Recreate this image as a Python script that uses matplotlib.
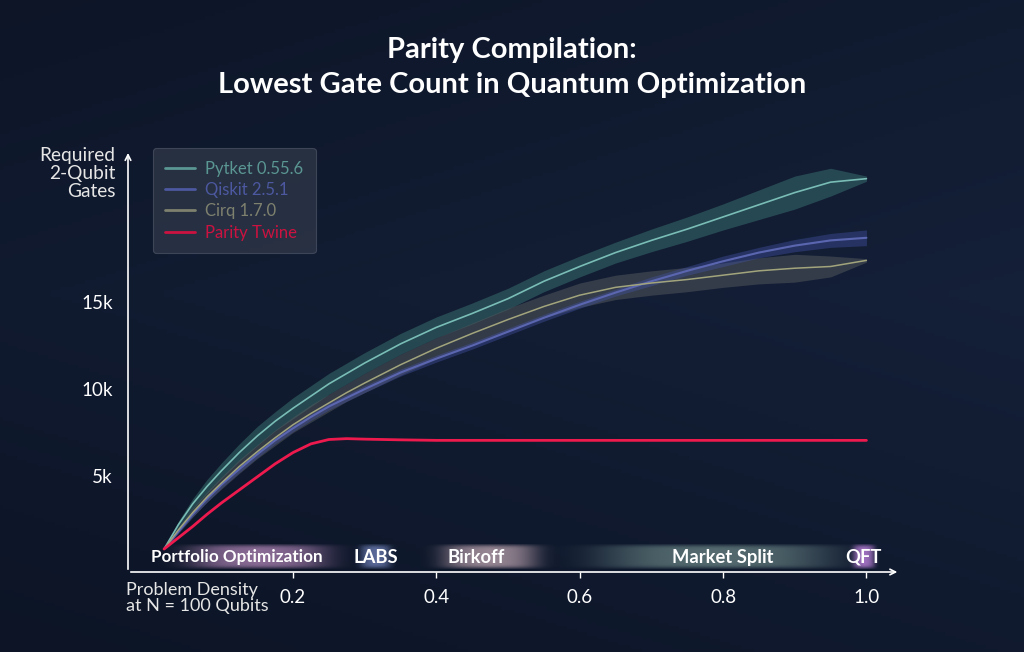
import numpy as np
import matplotlib
matplotlib.use("Agg")
import matplotlib.pyplot as plt
from matplotlib.colors import to_rgb

plt.rcParams['font.family'] = ['Lato', 'DejaVu Sans']

# ---------------- data ----------------
density = [0.02, 0.04, 0.06, 0.08, 0.10, 0.125, 0.15, 0.175, 0.20, 0.225, 0.25, 0.275, 0.30,
           0.35, 0.40, 0.45, 0.50, 0.55, 0.60, 0.65, 0.70, 0.75, 0.80, 0.85, 0.90, 0.95, 1.00]

pytket = [0.8, 2.2, 3.4, 4.4, 5.3, 6.35, 7.3, 8.15, 8.9, 9.6, 10.3, 10.9, 11.5,
          12.6, 13.55, 14.35, 15.2, 16.2, 17.05, 17.85, 18.55, 19.2, 19.9, 20.6, 21.3, 21.9, 22.1]
pytket_spread = [0.0, 0.2, 0.3, 0.4, 0.45, 0.5, 0.55, 0.55, 0.6, 0.6, 0.6, 0.6, 0.6,
                 0.6, 0.6, 0.6, 0.6, 0.6, 0.6, 0.6, 0.65, 0.7, 0.75, 0.85, 0.95, 0.8, 0.15]

qiskit = [0.8, 1.8, 2.8, 3.7, 4.5, 5.4, 6.25, 7.05, 7.75, 8.4, 9.0, 9.5, 10.0,
          10.95, 11.75, 12.5, 13.3, 14.1, 14.85, 15.55, 16.2, 16.8, 17.35, 17.85, 18.25, 18.55, 18.7]
qiskit_spread = [0.0, 0.1, 0.15, 0.2, 0.2, 0.2, 0.2, 0.2, 0.2, 0.2, 0.2, 0.2, 0.2,
                 0.2, 0.2, 0.2, 0.2, 0.2, 0.2, 0.2, 0.25, 0.25, 0.3, 0.3, 0.35, 0.4, 0.45]

cirq = [0.8, 1.9, 2.9, 3.8, 4.6, 5.55, 6.4, 7.2, 7.95, 8.6, 9.2, 9.8, 10.35,
        11.4, 12.35, 13.2, 14.0, 14.75, 15.4, 15.85, 16.1, 16.3, 16.55, 16.8, 16.95, 17.05, 17.4]
cirq_spread = [0.0, 0.15, 0.25, 0.3, 0.35, 0.4, 0.4, 0.45, 0.45, 0.5, 0.5, 0.5, 0.55,
               0.6, 0.6, 0.6, 0.65, 0.65, 0.7, 0.7, 0.7, 0.7, 0.7, 0.75, 0.8, 0.6, 0.1]

parity = [0.8, 1.45, 2.1, 2.8, 3.45, 4.2, 4.95, 5.7, 6.35, 6.85, 7.1, 7.15, 7.12,
          7.08, 7.05, 7.05, 7.05, 7.05, 7.05, 7.05, 7.05, 7.05, 7.05, 7.05, 7.05, 7.05, 7.05]

series_names = ["Pytket 0.55.6", "Qiskit 2.5.1", "Cirq 1.7.0", "Parity Twine"]

x_ticks = [0.2, 0.4, 0.6, 0.8, 1.0]
x_tick_labels = ["0.2", "0.4", "0.6", "0.8", "1.0"]
y_ticks = [5, 10, 15]
y_tick_labels = ["5k", "10k", "15k"]

problem_names = ["Portfolio Optimization", "LABS", "Birkoff", "Market Split", "QFT"]
problem_pos = [0.122, 0.315, 0.455, 0.799, 0.996]

# ---------------- style ----------------
BG = "#0f1829"
teal_line, teal_band, teal_txt = "#79bdb6", "#3a7472", "#5a9692"
blue_line, blue_band, blue_txt = "#5b66b0", "#4553a6", "#4c58a0"
olive_line, olive_band, olive_txt = "#a2a57c", "#565b5e", "#7e816e"
red_line = "#ee1a4e"

glow_specs = [  # (center offset, half width, color, peak alpha, font size)
    (0.03, 0.16, "#a07aa8", 0.85, 12.3),
    (0.0, 0.035, "#6e7fb5", 0.8, 13.2),
    (0.02, 0.11, "#b09aa6", 0.85, 13.2),
    (-0.01, 0.27, "#7a9894", 0.65, 13.2),
    (0.0, 0.025, "#b07ad0", 0.9, 13.2),
]

fig = plt.figure(figsize=(10.24, 6.52), dpi=100)
fig.patch.set_facecolor(BG)

# background gradient
bg_ax = fig.add_axes([0, 0, 1, 1], zorder=-10)
bg_ax.set_axis_off()
gy, gx = np.mgrid[0:1:200j, 0:1:300j]
c0 = np.array(to_rgb("#0a1120"))
c1 = np.array(to_rgb("#15213a"))
w = np.clip(0.35 * gx + 0.45 * (1 - np.abs(gy - 0.45) * 1.6) + 0.15, 0, 1)[..., None]
img = c0 * (1 - w) + c1 * w
bg_ax.imshow(img, extent=[0, 1, 0, 1], aspect='auto', origin='upper')

ax = fig.add_axes([0.125, 0.1227, 0.754, 0.647])
ax.set_facecolor("none")
x = np.array(density)

def band(y, s, color, alpha):
    y = np.array(y); s = np.array(s)
    ax.fill_between(x, y - s, y + s, color=color, alpha=alpha, lw=0, zorder=2)

band(pytket, pytket_spread, teal_band, 0.5)
band(cirq, cirq_spread, olive_band, 0.5)
band(qiskit, qiskit_spread, blue_band, 0.4)

l1, = ax.plot(x, pytket, color=teal_line, lw=1.2, zorder=4, solid_capstyle='round')
l2, = ax.plot(x, qiskit, color=blue_line, lw=1.5, zorder=4, solid_capstyle='round')
l3, = ax.plot(x, cirq, color=olive_line, lw=1.1, zorder=4, solid_capstyle='round')
l4, = ax.plot(x, parity, color=red_line, lw=2.0, zorder=5, solid_capstyle='round')

XMIN, XMAX, YMIN, YMAX = -0.0303, 1.047, -0.52, 23.74
ax.set_xlim(XMIN, XMAX)
ax.set_ylim(YMIN, YMAX)

# glowing problem-class labels
gl_y0, gl_y1 = -0.35, 1.05
for name, pos, (off, wd, col, pa, fs) in zip(problem_names, problem_pos, glow_specs):
    c = pos + off
    xs = np.linspace(c - wd, c + wd, 300)
    ys = np.linspace(-1, 1, 40)
    t = (xs - c) / wd
    ax_prof = pa * np.exp(-(t * 1.6) ** 4) * np.clip(1 - np.abs(t), 0, 1) ** 0.3
    v_prof = np.exp(-(ys * 1.05) ** 8)
    rgba = np.zeros((40, 300, 4))
    rgba[..., :3] = to_rgb(col)
    rgba[..., 3] = v_prof[:, None] * ax_prof[None, :]
    ax.imshow(rgba, extent=[c - wd, c + wd, gl_y0, gl_y1], aspect='auto',
              zorder=1, interpolation='bilinear')
    ax.text(pos, 0.34, name, color="white", fontsize=fs, fontweight='bold',
            ha='center', va='center', zorder=6)

ax.set_xlim(XMIN, XMAX)
ax.set_ylim(YMIN, YMAX)

# axes
for sp in ax.spines.values():
    sp.set_visible(False)
ax.annotate('', xy=(1, 0), xytext=(0, 0), xycoords='axes fraction',
            arrowprops=dict(arrowstyle='->', color='white', lw=1.2, mutation_scale=10))
ax.annotate('', xy=(0, 1), xytext=(0, 0), xycoords='axes fraction',
            arrowprops=dict(arrowstyle='->', color='white', lw=1.2, mutation_scale=10))

ax.set_xticks(x_ticks)
ax.set_xticklabels(x_tick_labels)
ax.set_yticks(y_ticks)
ax.set_yticklabels(y_tick_labels)
ax.tick_params(axis='x', colors='white', labelsize=13.5, length=4, width=1, direction='out', pad=8)
ax.tick_params(axis='y', colors='white', labelsize=13.5, length=0, pad=11)

fig.text(0.113, 0.775, "Required\n2-Qubit\nGates", color="#e6e6e6", fontsize=13.8,
         ha='right', va='top', linespacing=1.08)
fig.text(0.123, 0.108, "Problem Density\nat N = 100 Qubits", color="#e6e6e6", fontsize=13,
         ha='left', va='top', linespacing=1.05)

fig.text(0.5, 0.896, "Parity Compilation:\nLowest Gate Count in Quantum Optimization",
         color="white", fontsize=21, fontweight='bold', ha='center', va='center',
         linespacing=1.42)

leg = ax.legend([l1, l2, l3, l4], series_names, loc='upper left',
                bbox_to_anchor=(0.032, 1.005), borderaxespad=0, fontsize=12,
                frameon=True, handlelength=1.8, handletextpad=0.6, labelspacing=0.32,
                borderpad=0.75, fancybox=True)
fr = leg.get_frame()
fr.set_facecolor("#3b4352")
fr.set_alpha(0.55)
fr.set_edgecolor("#5a6272")
fr.set_linewidth(0.8)
for txt, c in zip(leg.get_texts(), [teal_txt, blue_txt, olive_txt, "#cc1240"]):
    txt.set_color(c)
for h, c in zip(leg.legend_handles, [teal_txt, blue_txt, olive_txt, "#cc1240"]):
    h.set_color(c)
    h.set_linewidth(2)

fig.savefig("out.png", dpi=100, facecolor=BG)
